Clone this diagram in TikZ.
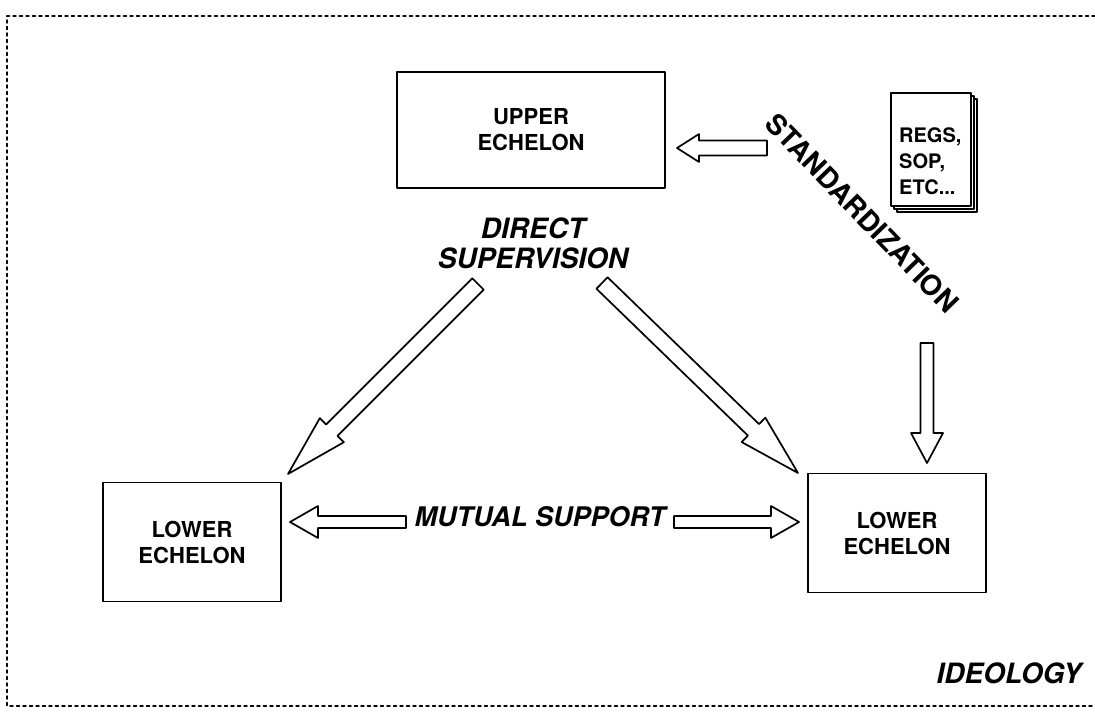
\documentclass[tikz,border=0pt]{standalone}
\usepackage{fontspec}
\setmainfont{TeX Gyre Heros}
\usetikzlibrary{calc}

% hollow block arrow: start, tip, shaft half width, head half width, head length
\newcommand{\hollowarrow}[5]{%
  \coordinate (ha-h) at ($(#2)!#5!(#1)$);
  \draw[arrowline] ($(#1)!#3!90:(#2)$) -- ($(ha-h)!#3!90:(#2)$) -- ($(ha-h)!#4!90:(#2)$) -- (#2)
    -- ($(ha-h)!#4!-90:(#2)$) -- ($(ha-h)!#3!-90:(#2)$) -- ($(#1)!#3!-90:(#2)$) -- cycle;
}

\tikzset{
  box/.style={draw, line width=1.8pt, minimum width=178pt, minimum height=119pt, align=center,
    font=\fontsize{22}{26}\selectfont\bfseries},
  arrowline/.style={draw, line width=1.7pt, fill=white},
  slanted/.style={font=\fontsize{28}{30}\selectfont\bfseries\itshape, align=center},
  border/.style={line width=1.4pt, dash pattern=on 3pt off 3.5pt},
  page/.style={draw, line width=1.4pt, fill=white},
}

\begin{document}
\begin{tikzpicture}[x=1pt,y=-1pt,line join=round,line cap=round]
  \useasboundingbox (0,0) rectangle (1095,718);
  % Khung ngoai
  \draw[border] (1095,16) -- (7,16) -- (7,706) -- (1095,706);

  % Cac hop
  \node[box, minimum width=268pt, minimum height=116pt] (upper) at (531,130) {UPPER\\ECHELON};
  \node[box] (lowl) at (192,542) {LOWER\\ECHELON};
  \node[box] (lowr) at (897,533) {LOWER\\ECHELON};

  % Nhan
  \node[slanted] (direct) at (533,243) {DIRECT\\SUPERVISION};
  \node[slanted, font=\fontsize{27}{30}\selectfont\bfseries\itshape] (mutual) at (540,517) {MUTUAL SUPPORT};
  \node[slanted, anchor=base east] (ideo) at (1085,683) {IDEOLOGY};
  \node[font=\fontsize{28}{30}\selectfont\bfseries, rotate=-46] (stdz) at (862,213) {STANDARDIZATION};

  % Tap tai lieu
  \foreach \d in {6,3}
    \draw[page] (891+\d,93+\d) rectangle (971+\d,206+\d);
  \node[page, minimum width=80pt, minimum height=113pt] (doc) at (931,149.5) {};
  \node[anchor=west, align=left, inner sep=0pt, font=\fontsize{20}{26}\selectfont\bfseries] (regs)
    at (899,161) {REGS,\\SOP,\\ETC...};

  % Diem dau mui ten
  \coordinate (su-s) at (767,148);  \coordinate (su-t) at (677,148);
  \coordinate (sd-s) at (927,343);  \coordinate (sd-t) at (927,463);
  \coordinate (dl-s) at (478,284);  \coordinate (dl-t) at (288,474);
  \coordinate (dr-s) at (602,283);  \coordinate (dr-t) at (798,473);
  \coordinate (ml-s) at (406,522);  \coordinate (ml-t) at (290,522);
  \coordinate (mr-s) at (674,522);  \coordinate (mr-t) at (799,522);

  % Mui ten
  \hollowarrow{su-s}{su-t}{7.5pt}{14pt}{22pt}
  \hollowarrow{sd-s}{sd-t}{6.5pt}{16pt}{30pt}
  \hollowarrow{dl-s}{dl-t}{8pt}{17pt}{62pt}
  \hollowarrow{dr-s}{dr-t}{8pt}{17pt}{62pt}
  \hollowarrow{ml-s}{ml-t}{6pt}{16pt}{28pt}
  \hollowarrow{mr-s}{mr-t}{6pt}{16pt}{28pt}
\end{tikzpicture}
\end{document}
